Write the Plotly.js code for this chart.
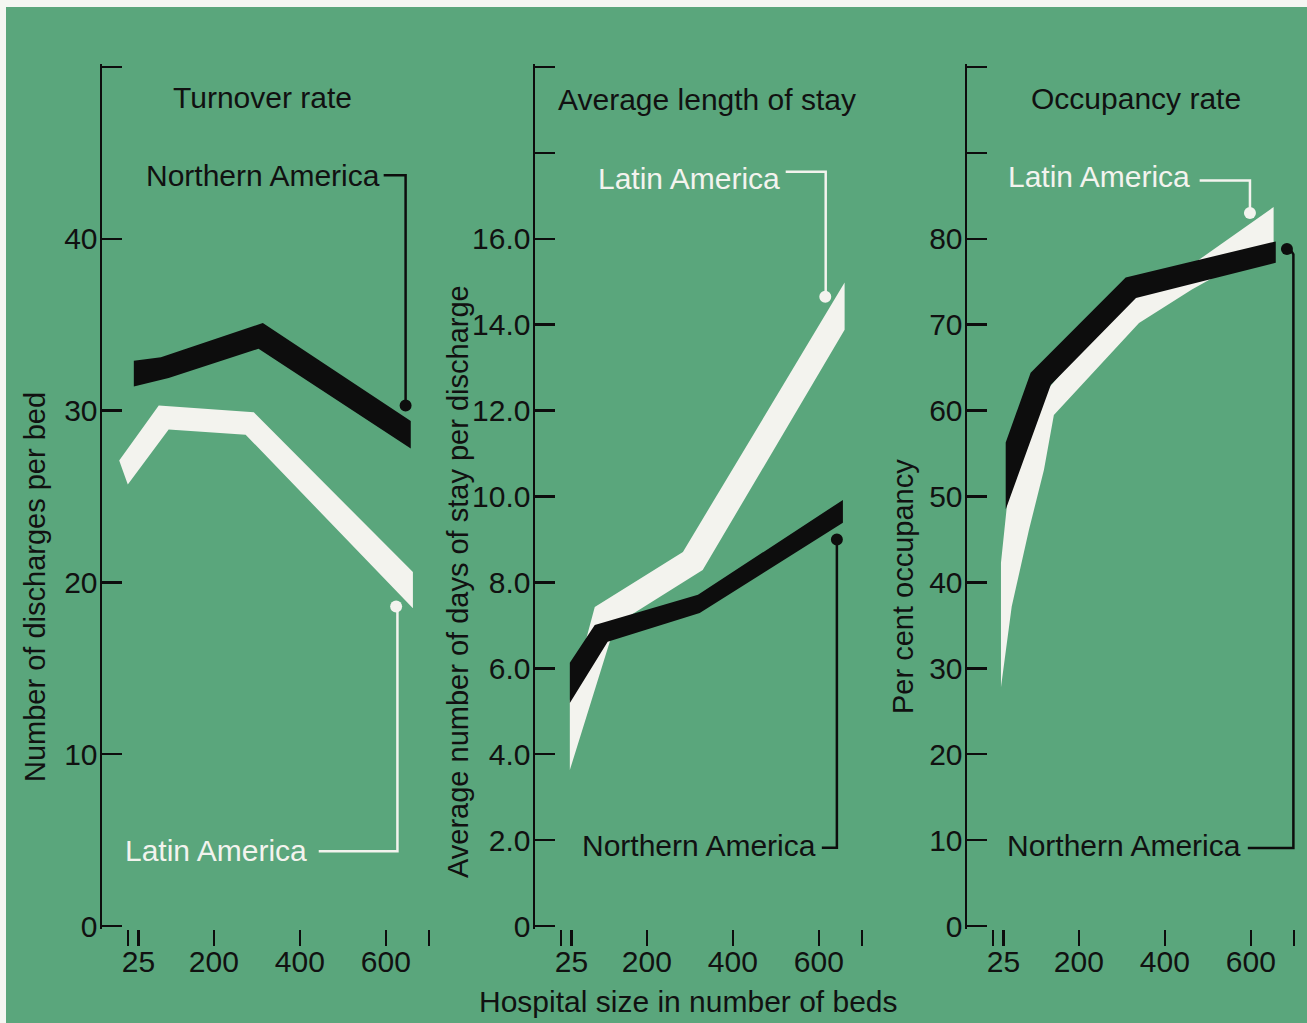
<!DOCTYPE html>
<html>
<head>
<meta charset="utf-8">
<script src="https://cdn.plot.ly/plotly-3.0.1.min.js"></script>
<style>
  html, body { margin: 0; padding: 0; background: #ffffff; }
  #chart { width: 1307px; height: 1023px; }
</style>
</head>
<body>
<div id="chart"></div>
<script>
// ---------------- DATA ----------------
// x = hospital size in number of beds; each band = upper edge + lower edge
// Panel 1: Turnover rate (discharges per bed)
const turnNA_hiX = [14, 77, 314, 658];
const turnNA_hiY = [32.9, 33.1, 35.1, 29.4];
const turnNA_loX = [14, 95, 304, 658];
const turnNA_loY = [31.4, 31.9, 33.6, 27.8];
const turnLA_hiX = [-20, 72, 293, 663];
const turnLA_hiY = [27.1, 30.3, 29.9, 20.6];
const turnLA_loX = [0, 95, 274, 663];
const turnLA_loY = [25.7, 28.9, 28.6, 18.5];

// Panel 2: Average length of stay (days per discharge)
const stayNA_hiX = [21, 79, 319, 656];
const stayNA_hiY = [6.13, 7.01, 7.71, 9.92];
const stayNA_loX = [21, 109, 323, 656];
const stayNA_loY = [5.19, 6.62, 7.29, 9.39];
const stayLA_hiX = [21, 79, 284, 660];
const stayLA_hiY = [5.26, 7.43, 8.71, 14.98];
const stayLA_loX = [21, 126, 330, 660];
const stayLA_loY = [3.63, 7.01, 8.29, 13.88];

// Panel 3: Occupancy rate (per cent)
const occNA_hiX = [30, 88, 309, 658];
const occNA_hiY = [56.3, 64.4, 75.5, 79.7];
const occNA_loX = [30, 135, 333, 658];
const occNA_loY = [48.5, 63.0, 73.1, 77.2];
const occLA_hiX = [19, 33, 107, 316, 472, 602, 653];
const occLA_hiY = [42.3, 49.0, 61.3, 73.5, 77.3, 81.9, 83.7];
const occLA_loX = [19, 44, 84, 119, 142, 340, 463, 653];
const occLA_loY = [27.8, 37.2, 46.1, 53.1, 59.5, 70.2, 74.1, 79.4];

// Tick values / labels
const xTickVals = [0, 25, 200, 400, 600, 700];
const xTickText = ['', '25', '200', '400', '600', ''];
const y1TickVals = [0, 10, 20, 30, 40, 50];
const y1TickText = ['0', '10', '20', '30', '40', ''];
const y2TickVals = [0, 2, 4, 6, 8, 10, 12, 14, 16, 18, 20];
const y2TickText = ['0', '2.0', '4.0', '6.0', '8.0', '10.0', '12.0', '14.0', '16.0', '', ''];
const y3TickVals = [0, 10, 20, 30, 40, 50, 60, 70, 80, 90, 100];
const y3TickText = ['0', '10', '20', '30', '40', '50', '60', '70', '80', '', ''];

const panelTitles = ['Turnover rate', 'Average length of stay', 'Occupancy rate'];
const yTitles = ['Number of discharges per bed', 'Average number of days of stay per discharge', 'Per cent occupancy'];
const xTitle = 'Hospital size in number of beds';
const seriesNames = ['Northern America', 'Latin America'];

// ---------------- STYLE ----------------
const GREEN = '#5aa67c';
const BLACK = '#0d0d0d';
const WHITE = '#f3f3ee';
const FONT = 'Liberation Sans, Arial, Helvetica, sans-serif';

function band(xa, ya, loX, loY, hiX, hiY, color, name) {
  return [
    { type: 'scatter', mode: 'lines', x: loX, y: loY, xaxis: xa, yaxis: ya,
      line: { width: 0, color: color }, hoverinfo: 'skip', showlegend: false, name: name },
    { type: 'scatter', mode: 'lines', x: hiX, y: hiY, xaxis: xa, yaxis: ya,
      fill: 'tonexty', fillcolor: color, line: { width: 0, color: color },
      hoverinfo: 'skip', showlegend: false, name: name }
  ];
}

const traces = [].concat(
  band('x', 'y', turnLA_loX, turnLA_loY, turnLA_hiX, turnLA_hiY, WHITE, seriesNames[1]),
  band('x', 'y', turnNA_loX, turnNA_loY, turnNA_hiX, turnNA_hiY, BLACK, seriesNames[0]),
  band('x2', 'y2', stayLA_loX, stayLA_loY, stayLA_hiX, stayLA_hiY, WHITE, seriesNames[1]),
  band('x2', 'y2', stayNA_loX, stayNA_loY, stayNA_hiX, stayNA_hiY, BLACK, seriesNames[0]),
  band('x3', 'y3', occLA_loX, occLA_loY, occLA_hiX, occLA_hiY, WHITE, seriesNames[1]),
  band('x3', 'y3', occNA_loX, occNA_loY, occNA_hiX, occNA_hiY, BLACK, seriesNames[0])
);

// ---------------- LAYOUT ----------------
const W = 1307, H = 1023;
const yDom = [(H - 929) / H, (H - 64) / H];
const xRange = [-60, 726];
function xd(leftPx) { return [leftPx / W, (leftPx + 338) / W]; }

function xAxis(domain, anchor) {
  return {
    domain: domain, range: xRange, anchor: anchor,
    tickmode: 'array', tickvals: xTickVals, ticktext: xTickText,
    ticks: 'outside', ticklen: 16, tickwidth: 2.5, tickcolor: BLACK,
    ticklabelstandoff: -10,
    showline: false, showgrid: false, zeroline: false,
    tickfont: { family: FONT, size: 30, color: '#111' }, fixedrange: true
  };
}
function yAxis(range, vals, text, anchor) {
  // pad the range by ~3 px so the end ticks (0 and top bracket) are kept
  const pad = (range[1] - range[0]) * 3 / 859;
  return {
    domain: yDom, range: [range[0] - pad, range[1] + pad], anchor: anchor,
    tickmode: 'array', tickvals: vals, ticktext: text,
    ticks: 'inside', ticklen: 20, tickwidth: 2.5, tickcolor: BLACK,
    ticklabelstandoff: -4,
    showline: true, linewidth: 2.5, linecolor: BLACK,
    showgrid: false, zeroline: false,
    tickfont: { family: FONT, size: 30, color: '#111' }, fixedrange: true
  };
}

function connector(xr, yr, path, color) {
  return { type: 'path', xref: xr, yref: yr, path: path,
           line: { color: color, width: 2.5 }, layer: 'above' };
}
function dot(xr, yr, cx, cy, color) {
  return { type: 'circle', xref: xr, yref: yr, xsizemode: 'pixel', ysizemode: 'pixel',
           xanchor: cx, yanchor: cy, x0: -6, x1: 6, y0: -6, y1: 6,
           fillcolor: color, line: { width: 0 }, layer: 'above' };
}

const shapes = [
  // thin paper edge at top and left
  { type: 'rect', xref: 'paper', yref: 'paper', x0: 0, x1: 1, y0: (H - 7) / H, y1: 1,
    fillcolor: '#f4f6f2', line: { width: 0 }, layer: 'below' },
  { type: 'rect', xref: 'paper', yref: 'paper', x0: 0, x1: 6 / W, y0: 0, y1: 1,
    fillcolor: '#f4f6f2', line: { width: 0 }, layer: 'below' },
  // Panel 1
  connector('x', 'y', 'M 595,43.7 L 646,43.7 L 646,30.3', BLACK),
  dot('x', 'y', 646, 30.3, BLACK),
  connector('x', 'y', 'M 444,4.35 L 627,4.35 L 627,18.6', WHITE),
  dot('x', 'y', 624, 18.6, WHITE),
  // Panel 2
  connector('x2', 'y2', 'M 523,17.56 L 616,17.56 L 616,14.65', WHITE),
  dot('x2', 'y2', 615, 14.65, WHITE),
  connector('x2', 'y2', 'M 607,1.82 L 642,1.82 L 642,9.0', BLACK),
  dot('x2', 'y2', 642, 9.0, BLACK),
  // Panel 3
  connector('x3', 'y3', 'M 481,86.8 L 598,86.8 L 598,83.0', WHITE),
  dot('x3', 'y3', 598, 83.0, WHITE),
  connector('x3', 'y3', 'M 593,9.08 L 699,9.08 L 699,78.2 L 690,78.9', BLACK),
  dot('x3', 'y3', 684, 78.8, BLACK)
];

function txt(x, y, xr, yr, text, opts) {
  return Object.assign({ x: x, y: y, xref: xr, yref: yr, text: text, showarrow: false,
    font: { family: FONT, size: 30, color: '#111' }, xanchor: 'center', yanchor: 'middle' }, opts || {});
}

const annotations = [
  // panel titles
  txt(262 / W, (H - 97) / H, 'paper', 'paper', panelTitles[0]),
  txt(707 / W, (H - 99) / H, 'paper', 'paper', panelTitles[1]),
  txt(1136 / W, (H - 98) / H, 'paper', 'paper', panelTitles[2]),
  // y titles
  txt(35 / W, (H - 587) / H, 'paper', 'paper', yTitles[0], { textangle: -90, font: { family: FONT, size: 29, color: '#111' } }),
  txt(458 / W, (H - 582) / H, 'paper', 'paper', yTitles[1], { textangle: -90, font: { family: FONT, size: 29, color: '#111' } }),
  txt(903 / W, (H - 587) / H, 'paper', 'paper', yTitles[2], { textangle: -90, font: { family: FONT, size: 29, color: '#111' } }),
  // x title
  txt(688 / W, (H - 1001) / H, 'paper', 'paper', xTitle),
  // series labels
  txt(590, 43.7, 'x', 'y', seriesNames[0], { xanchor: 'right' }),
  txt(421, 4.4, 'x', 'y', seriesNames[1], { xanchor: 'right', font: { family: FONT, size: 30, color: WHITE } }),
  txt(514, 17.4, 'x2', 'y2', seriesNames[1], { xanchor: 'right', font: { family: FONT, size: 30, color: WHITE } }),
  txt(598, 1.88, 'x2', 'y2', seriesNames[0], { xanchor: 'right' }),
  txt(463, 87.2, 'x3', 'y3', seriesNames[1], { xanchor: 'right', font: { family: FONT, size: 30, color: WHITE } }),
  txt(582, 9.4, 'x3', 'y3', seriesNames[0], { xanchor: 'right' })
];

const layout = {
  width: W, height: H,
  margin: { l: 0, r: 0, t: 0, b: 0, pad: 0 },
  paper_bgcolor: GREEN, plot_bgcolor: 'rgba(0,0,0,0)',
  showlegend: false,
  font: { family: FONT, color: '#111' },
  xaxis: xAxis(xd(102), 'y'),
  xaxis2: xAxis(xd(535), 'y2'),
  xaxis3: xAxis(xd(967), 'y3'),
  yaxis: yAxis([0, 50], y1TickVals, y1TickText, 'x'),
  yaxis2: yAxis([0, 20], y2TickVals, y2TickText, 'x2'),
  yaxis3: yAxis([0, 100], y3TickVals, y3TickText, 'x3'),
  shapes: shapes,
  annotations: annotations
};

Plotly.newPlot('chart', traces, layout, { displayModeBar: false, staticPlot: true });
</script>
</body>
</html>
